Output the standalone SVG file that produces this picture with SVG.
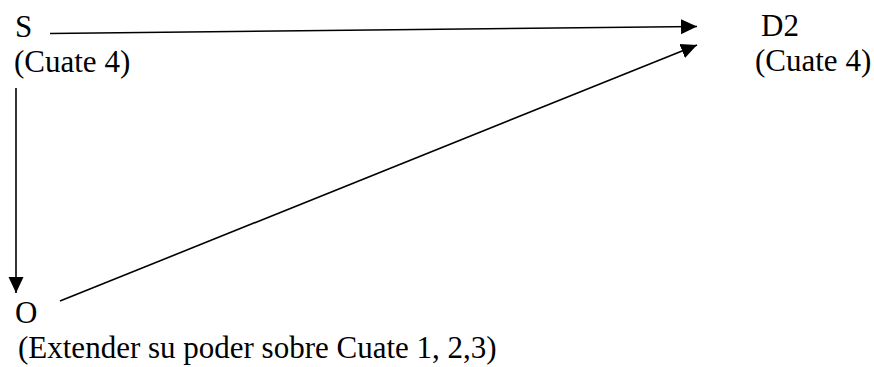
<svg xmlns="http://www.w3.org/2000/svg" width="874" height="367" viewBox="0 0 874 367">
<style>
.t{font-family:'Liberation Serif','DejaVu Serif',serif;font-size:31px;fill:#000}
.c{stroke:#000;stroke-width:1.6;fill:none}
</style>
<defs>
<marker id="ah" markerUnits="userSpaceOnUse" markerWidth="17" markerHeight="17" viewBox="0 0 17 17" refX="16" refY="8.5" orient="auto">
<path d="M0,1 L16,8.5 L0,16 Z" fill="#000"/>
</marker>
</defs>
<g id="connectors">
<line class="c" x1="50" y1="33.5" x2="697" y2="26.5" marker-end="url(#ah)"/>
<line class="c" x1="16" y1="88" x2="16" y2="293" marker-end="url(#ah)"/>
<line class="c" x1="60" y1="301" x2="697" y2="45" marker-end="url(#ah)"/>
</g>
<g id="node-S">
<text class="t" font-family="Liberation Serif, serif" x="15" y="37">S</text>
<text class="t" font-family="Liberation Serif, serif" x="14" y="72">(Cuate 4)</text>
</g>
<g id="node-D2">
<text class="t" font-family="Liberation Serif, serif" x="761" y="36">D2</text>
<text class="t" font-family="Liberation Serif, serif" x="755" y="71">(Cuate 4)</text>
</g>
<g id="node-O">
<text class="t" font-family="Liberation Serif, serif" x="15" y="323">O</text>
<text class="t" font-family="Liberation Serif, serif" x="18" y="358">(Extender su poder sobre Cuate 1, 2,3)</text>
</g>
</svg>
